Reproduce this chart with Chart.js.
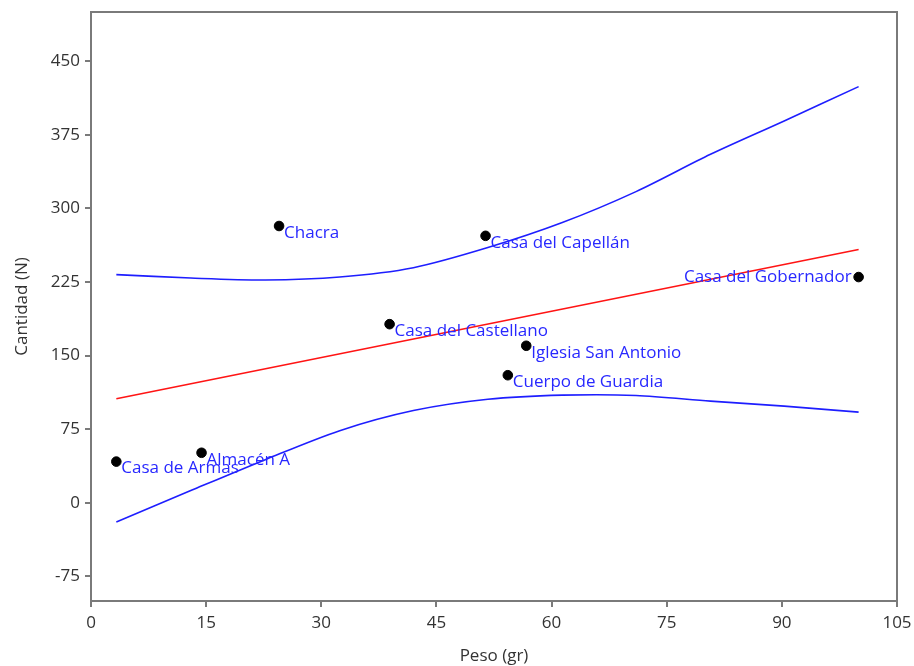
<!DOCTYPE html>
<html>
<head>
<meta charset="utf-8">
<script src="https://cdn.jsdelivr.net/npm/chart.js@4/dist/chart.umd.min.js"></script>
<style>
  html, body { margin: 0; padding: 0; background: #fff; }
  #wrap { width: 914px; height: 666px; }
</style>
</head>
<body>
<div id="wrap"><canvas id="c" width="914" height="666"></canvas></div>
<script>
// Sites: weight (gr) vs. count (N)
const sites = ['Casa de Armas', 'Almacén A', 'Chacra', 'Casa del Castellano', 'Casa del Capellán',
               'Cuerpo de Guardia', 'Iglesia San Antonio', 'Casa del Gobernador'];
const peso = [3.3, 14.4, 24.5, 38.9, 51.4, 54.3, 56.7, 100];
const cantidad = [42, 51, 282, 182, 272, 130, 160, 230];

// Fitted regression line
const fitX = [3.3, 100];
const fitY = [106, 258];

// Confidence band
const bandX = [3.3, 13, 22.7, 32.4, 42, 51.7, 61.4, 71, 80.7, 90.3, 100];
const bandUpper = [232.5, 229, 227, 230, 239.5, 260, 285.5, 317, 355, 389, 424];
const bandLower = [-19.5, 12.5, 44, 73.5, 94, 105.5, 109.7, 109.4, 103.6, 98.5, 92.4];

// Axis ticks
const xTicks = [0, 15, 30, 45, 60, 75, 90, 105];
const yTicks = [-75, 0, 75, 150, 225, 300, 375, 450];

const FONT = '"Open Sans", "Noto Sans", sans-serif';
const LABEL_BLUE = 'rgb(40,40,255)';

const toXY = (xs, ys) => xs.map((x, i) => ({ x: x, y: ys[i] }));

const frame = {
  id: 'frame',
  afterDatasetsDraw(chart) {
    const { ctx, chartArea: a, scales } = chart;
    // point labels
    ctx.save();
    ctx.font = '17px ' + FONT;
    ctx.fillStyle = LABEL_BLUE;
    sites.forEach((name, i) => {
      const px = scales.x.getPixelForValue(peso[i]);
      const py = scales.y.getPixelForValue(cantidad[i]);
      if (px > a.right - 80) {
        ctx.textAlign = 'right';
        ctx.textBaseline = 'middle';
        ctx.fillText(name, px - 7, py);
      } else {
        ctx.textAlign = 'left';
        ctx.textBaseline = 'middle';
        ctx.fillText(name, px + 5, py + 7);
      }
    });
    ctx.restore();
    // box around plot area
    ctx.save();
    ctx.strokeStyle = '#7a7a7a';
    ctx.lineWidth = 2;
    ctx.strokeRect(a.left, a.top, a.right - a.left, a.bottom - a.top);
    ctx.restore();
  }
};

new Chart(document.getElementById('c'), {
  type: 'scatter',
  data: {
    datasets: [
      {
        label: 'upper',
        type: 'line',
        data: toXY(bandX, bandUpper),
        borderColor: 'rgb(30,30,255)',
        borderWidth: 1.6,
        pointRadius: 0,
        tension: 0.3,
        fill: false
      },
      {
        label: 'lower',
        type: 'line',
        data: toXY(bandX, bandLower),
        borderColor: 'rgb(30,30,255)',
        borderWidth: 1.6,
        pointRadius: 0,
        tension: 0.3,
        fill: false
      },
      {
        label: 'fit',
        type: 'line',
        data: toXY(fitX, fitY),
        borderColor: 'rgb(255,20,20)',
        borderWidth: 1.6,
        pointRadius: 0,
        fill: false
      },
      {
        label: 'sites',
        data: toXY(peso, cantidad),
        backgroundColor: '#000',
        borderColor: '#000',
        pointRadius: 4.8,
        pointHoverRadius: 4.8
      }
    ]
  },
  options: {
    responsive: false,
    animation: false,
    layout: { padding: { left: 0, top: 12, right: 17, bottom: 0 } },
    plugins: { legend: { display: false }, tooltip: { enabled: false } },
    scales: {
      x: {
        type: 'linear',
        min: 0, max: 105,
        afterBuildTicks(s) { s.ticks = xTicks.map(v => ({ value: v })); },
        afterFit(s) { s.height = 65; s.paddingLeft = 0; s.paddingRight = 0; },
        grid: { drawOnChartArea: false, drawTicks: true, tickLength: 6, color: '#7a7a7a', lineWidth: 2 },
        border: { display: false },
        ticks: { font: { size: 17, family: FONT }, color: '#333', padding: 6, maxRotation: 0 },
        title: { display: true, text: 'Peso (gr)', font: { size: 17, family: FONT }, color: '#333', padding: { top: 0, bottom: 0 } }
      },
      y: {
        type: 'linear',
        min: -100, max: 500,
        afterBuildTicks(s) { s.ticks = yTicks.map(v => ({ value: v })); },
        afterFit(s) { s.width = 91; s.paddingTop = 0; s.paddingBottom = 0; },
        grid: { drawOnChartArea: false, drawTicks: true, tickLength: 6, color: '#7a7a7a', lineWidth: 2 },
        border: { display: false },
        ticks: { font: { size: 17, family: FONT }, color: '#333', padding: 5 },
        title: { display: true, text: 'Cantidad (N)', font: { size: 17, family: FONT }, color: '#333', padding: { top: 12, bottom: 0 } }
      }
    }
  },
  plugins: [frame]
});
</script>
</body>
</html>
